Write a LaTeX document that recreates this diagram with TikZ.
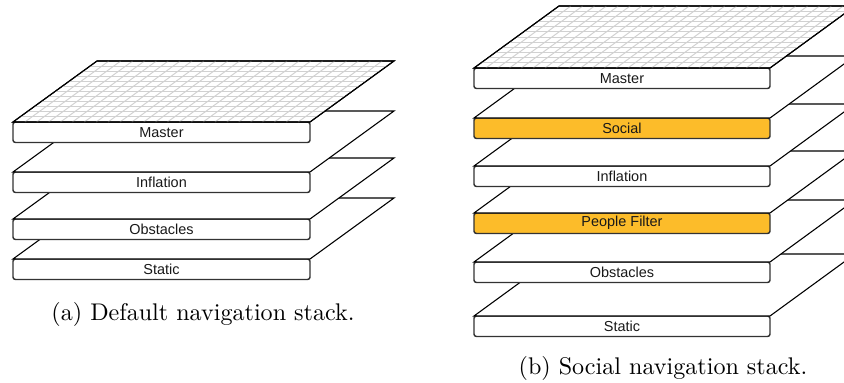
\documentclass[tikz,border=0pt]{standalone}
\usepackage{fontspec}
\newfontfamily\lblfont{Liberation Sans}
\usetikzlibrary{calc}
\definecolor{socialorange}{RGB}{252,188,42}
\tikzset{
  layerbox/.style={draw=black!80, line width=0.6pt, rounded corners=1pt, inner sep=0pt,
    outer sep=0pt, minimum height=8.5pt, text=black!90,
    font=\lblfont\fontsize{6}{7}\selectfont},
  faceedge/.style={draw=black, fill=white, line width=0.45pt, line join=miter},
  faceline/.style={draw=black, line width=0.45pt, line join=miter},
  gridline/.style={draw=black!18, line width=0.4pt},
  caption/.style={anchor=base, inner sep=0pt, font=\fontsize{10}{12}\selectfont}
}
% #1 name, #2 x centre, #3 top, #4 width (px), #5 dx, #6 dy, #7 fill, #8 label
\newcommand{\mklayer}[8]{%
  \node[layerbox, fill=#7, minimum width=#4*0.415pt, anchor=north] (#1) at (#2,#3) {#8};
  \coordinate (#1-tl) at ($(#1.north west)+(#5,-#6)$);
  \coordinate (#1-tr) at ($(#1.north east)+(#5,-#6)$);
  \path[faceedge] (#1.north west) -- (#1-tl) -- (#1-tr) -- (#1.north east) -- cycle;
}
\newcommand{\mkgrid}[1]{%
  \foreach \j in {1,...,11}
    \draw[gridline] ($(#1.north west)!\j/12!(#1-tl)$) -- ($(#1.north east)!\j/12!(#1-tr)$);
  \foreach \i in {1,...,24}
    \draw[gridline] ($(#1.north west)!\i/25!(#1.north east)$) -- ($(#1-tl)!\i/25!(#1-tr)$);
  \draw[faceline] (#1.north west) -- (#1-tl) -- (#1-tr) -- (#1.north east) -- cycle;
}
\begin{document}
\begin{tikzpicture}[x=0.415pt, y=-0.415pt]
\useasboundingbox (0,0) rectangle (844,383);
\clip (0,0) rectangle (844,383);
% ---- (a) default stack
\mklayer{aStatic}{161.5}{259}{297}{84}{61}{white}{Static}
\mklayer{aObst}{161.5}{219}{297}{84}{61}{white}{Obstacles}
\mklayer{aInfl}{161.5}{172}{297}{84}{61}{white}{Inflation}
\mklayer{aMaster}{161.5}{122}{297}{84}{61}{white}{Master}
\mkgrid{aMaster}
\node[caption] (capa) at (203,320) {(a) Default navigation stack.};
% ---- (b) social stack
\mklayer{bStatic}{622}{316}{296}{85}{62}{white}{Static}
\mklayer{bObst}{622}{262}{296}{85}{62}{white}{Obstacles}
\mklayer{bPeople}{622}{213}{296}{85}{62}{socialorange}{People Filter}
\mklayer{bInfl}{622}{166}{296}{85}{62}{white}{Inflation}
\mklayer{bSocial}{622}{118}{296}{85}{62}{socialorange}{Social}
\mklayer{bMaster}{622}{68}{296}{85}{62}{white}{Master}
\mkgrid{bMaster}
\node[caption] (capb) at (663,374) {(b) Social navigation stack.};
\end{tikzpicture}
\end{document}
